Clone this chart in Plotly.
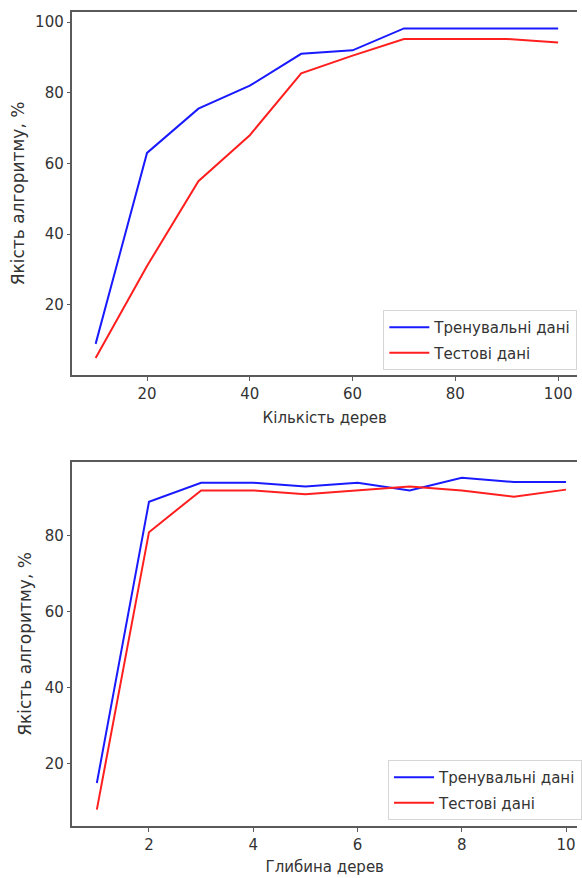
import plotly.graph_objects as go

# ---- data ----
trees_x = [10, 20, 30, 40, 50, 60, 70, 80, 90, 100]
trees_train = [9, 63, 75.5, 82, 91, 92, 98.2, 98.2, 98.2, 98.2]
trees_test = [5, 31, 55, 68, 85.5, 90.5, 95.2, 95.2, 95.2, 94.2]

depth_x = [1, 2, 3, 4, 5, 6, 7, 8, 9, 10]
depth_train = [15, 89, 94, 94, 93, 94, 92, 95.3, 94.2, 94.2]
depth_test = [8, 81, 92, 92, 91, 92, 93, 92, 90.3, 92.2]

top_xticks = [20, 40, 60, 80, 100]
top_yticks = [20, 40, 60, 80, 100]
bot_xticks = [2, 4, 6, 8, 10]
bot_yticks = [20, 40, 60, 80]

name_train = "Тренувальні дані"
name_test = "Тестові дані"
ylabel = "Якість алгоритму, %"
xlabel_top = "Кількість дерев"
xlabel_bot = "Глибина дерев"

W, H = 582, 878
FONT = "DejaVu Sans"
TXT = "#333333"
BLUE = "#1a1aff"
RED = "#ff1f1f"
SPINE = "#5a5a5a"

fig = go.Figure()
fig.add_trace(go.Scatter(x=trees_x, y=trees_train, mode="lines", name=name_train, legendgroup="a",
                         line=dict(color=BLUE, width=2), xaxis="x", yaxis="y", legend="legend"))
fig.add_trace(go.Scatter(x=trees_x, y=trees_test, mode="lines", name=name_test, legendgroup="b",
                         line=dict(color=RED, width=2), xaxis="x", yaxis="y", legend="legend"))
fig.add_trace(go.Scatter(x=depth_x, y=depth_train, mode="lines", name=name_train, legendgroup="c",
                         line=dict(color=BLUE, width=2), xaxis="x2", yaxis="y2", legend="legend2"))
fig.add_trace(go.Scatter(x=depth_x, y=depth_test, mode="lines", name=name_test, legendgroup="d",
                         line=dict(color=RED, width=2), xaxis="x2", yaxis="y2", legend="legend2"))

def px_x(p):
    return p / W

def px_y(p):
    return 1 - p / H

axis_common = dict(showgrid=False, zeroline=False, showline=True, linecolor=SPINE, linewidth=1.5,
                   ticks="outside", ticklen=4, tickwidth=1, tickcolor=SPINE,
                   tickfont=dict(family=FONT, size=15, color=TXT))

xdom = [px_x(73), px_x(581)]
xt_font = dict(family=FONT, size=15, color=TXT)
yt_font = dict(family=FONT, size=17, color=TXT)

legend_common = dict(xanchor="left", yanchor="top", bgcolor="white", bordercolor="#d6d6d6",
                     borderwidth=1, font=dict(family=FONT, size=15, color=TXT),
                     traceorder="grouped", tracegroupgap=3, itemwidth=40)

fig.update_layout(
    width=W, height=H,
    margin=dict(l=0, r=0, t=0, b=0),
    paper_bgcolor="white", plot_bgcolor="white",
    font=dict(family=FONT, size=15, color=TXT),
    xaxis=dict(domain=xdom, anchor="y", range=[5.5, 103.67], tickvals=top_xticks, mirror=True,
               title=dict(text=xlabel_top, font=xt_font, standoff=11), **axis_common),
    yaxis=dict(domain=[px_y(375), px_y(12)], anchor="x", range=[0.2, 102.83], tickvals=top_yticks,
               title=dict(text=ylabel, font=yt_font, standoff=6), **axis_common),
    xaxis2=dict(domain=xdom, anchor="y2", range=[0.533, 10.21], tickvals=bot_xticks, mirror=True,
                title=dict(text=xlabel_bot, font=xt_font, standoff=9), **axis_common),
    yaxis2=dict(domain=[px_y(826), px_y(462)], anchor="x2", range=[3.68, 99.47], tickvals=bot_yticks,
                title=dict(text=ylabel, font=yt_font, standoff=9), **axis_common),
    legend=dict(x=px_x(386), y=px_y(310), **legend_common),
    legend2=dict(x=px_x(391), y=px_y(760), **legend_common),
    showlegend=True,
)

fig.write_html("out.html", config={"displayModeBar": False},
               post_script="document.body.style.margin='0';document.body.style.overflow='hidden';")
